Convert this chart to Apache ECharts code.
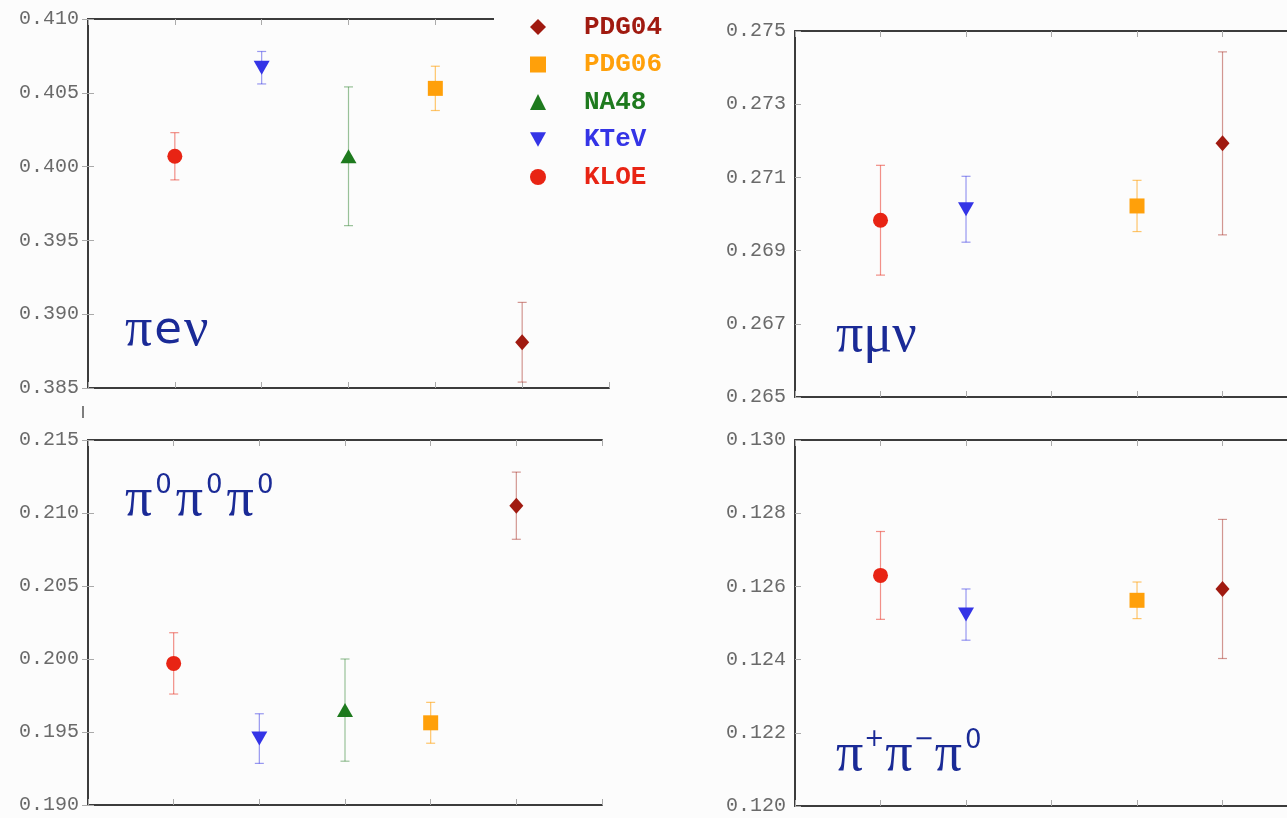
<!DOCTYPE html>
<html>
<head>
<meta charset="utf-8">
<script src="https://cdn.jsdelivr.net/npm/echarts@6/dist/echarts.min.js"></script>
<style>
html,body{margin:0;padding:0;background:#fcfcfc;}
#chart{width:1287px;height:818px;}
</style>
</head>
<body>
<div id="chart"></div>
<script>
// ---- data ----
const categories = ['KLOE', 'KTeV', 'NA48', 'PDG06', 'PDG04'];   // x order 1..5
const legendOrder = ['PDG04', 'PDG06', 'NA48', 'KTeV', 'KLOE'];

const pevValues  = [0.4007, 0.4067, 0.4007, 0.4053, 0.3881];
const pevErrors  = [0.0016, 0.0011, 0.0047, 0.0015, 0.0027];
const pmvValues  = [0.26983, 0.27013, null, 0.27022, 0.27193];
const pmvErrors  = [0.0015, 0.0009, null, 0.0007, 0.0025];
const p000Values = [0.1997, 0.19455, 0.1965, 0.19563, 0.2105];
const p000Errors = [0.0021, 0.0017, 0.0035, 0.0014, 0.0023];
const pppValues  = [0.1263, 0.12523, null, 0.12562, 0.12593];
const pppErrors  = [0.0012, 0.0007, null, 0.0005, 0.0019];

const pevTicks  = [0.385, 0.410, 0.005];
const pmvTicks  = [0.265, 0.275, 0.002];
const p000Ticks = [0.190, 0.215, 0.005];
const pppTicks  = [0.120, 0.130, 0.002];

// ---- styles ----
const colors = {PDG04:'#a01a10', PDG06:'#ffa00a', NA48:'#1e7a1e', KTeV:'#3434e6', KLOE:'#e82414'};
const errColors = {PDG04:'rgba(160,26,16,0.45)', PDG06:'rgba(255,160,10,0.6)', NA48:'rgba(30,122,30,0.45)', KTeV:'rgba(52,52,230,0.5)', KLOE:'rgba(232,36,20,0.5)'};
const invTri = 'path://M0,0 L10,0 L5,9 Z';
const symbols = {PDG04:'diamond', PDG06:'rect', NA48:'triangle', KTeV:invTri, KLOE:'circle'};
const sizes = {PDG04:[14,16], PDG06:[15,15], NA48:[16,14], KTeV:[16,14], KLOE:[15,15]};
const navy = '#1a2a96';

// right-hand panels run past the picture's edge: x range cut at the edge
const panels = [
  {grid:{left:88, top:19, width:521, height:369}, xMax:6, rightAxis:true, ticks:pevTicks, values:pevValues, errors:pevErrors},
  {grid:{left:795, top:31, width:492, height:366}, xMax:5.754, rightAxis:false, ticks:pmvTicks, values:pmvValues, errors:pmvErrors},
  {grid:{left:88, top:440, width:514, height:365}, xMax:6, rightAxis:true, ticks:p000Ticks, values:p000Values, errors:p000Errors},
  {grid:{left:795, top:440, width:492, height:366}, xMax:5.754, rightAxis:false, ticks:pppTicks, values:pppValues, errors:pppErrors}
];

const axisLine = {show:true, lineStyle:{color:'#3c3c3c', width:2}};
const axisTick = {show:true, inside:true, length:6, lineStyle:{color:'#aaa', width:1}};

const grids = [], xAxes = [], yAxes = [], series = [];
panels.forEach((p, i) => {
  grids.push(Object.assign({containLabel:false}, p.grid));
  ['bottom','top'].forEach(pos => xAxes.push({
    type:'value', gridIndex:i, position:pos, min:0, max:p.xMax, interval:1,
    axisLine, axisTick, axisLabel:{show:false}, splitLine:{show:false}
  }));
  yAxes.push({
    type:'value', gridIndex:i, position:'left', min:p.ticks[0], max:p.ticks[1], interval:p.ticks[2],
    axisLine, axisTick, splitLine:{show:false},
    axisLabel:{show:true, margin:9, color:'#6a6a6a', fontFamily:'Liberation Mono', fontSize:20,
      formatter: v => v.toFixed(3)}
  });
  yAxes.push({
    type:'value', gridIndex:i, position:'right', min:p.ticks[0], max:p.ticks[1], interval:p.ticks[2],
    show:p.rightAxis, axisLine, axisTick, splitLine:{show:false}, axisLabel:{show:false}
  });
});

// scatter series first (legend icons), then error bars
legendOrder.forEach(name => {
  const ci = categories.indexOf(name);
  panels.forEach((p, i) => {
    if (p.values[ci] == null) return;
    series.push({
      type:'scatter', name, xAxisIndex:2*i, yAxisIndex:2*i, z:3,
      symbol:symbols[name], symbolSize:sizes[name],
      itemStyle:{color:colors[name], opacity:1},
      data:[[ci+1, p.values[ci]]], silent:true
    });
  });
});
legendOrder.forEach(name => {
  const ci = categories.indexOf(name);
  panels.forEach((p, i) => {
    if (p.values[ci] == null) return;
    const c = errColors[name];
    series.push({
      type:'custom', name:name+' error', xAxisIndex:2*i, yAxisIndex:2*i, z:2, silent:true,
      encode:{x:0, y:[1,2]},
      data:[[ci+1, p.values[ci]-p.errors[ci], p.values[ci]+p.errors[ci]]],
      renderItem:(params, api) => {
        const x = api.value(0);
        const top = api.coord([x, api.value(2)]);
        const bot = api.coord([x, api.value(1)]);
        const w = 4.5;
        const st = {stroke:c, lineWidth:1.2};
        return {type:'group', children:[
          {type:'line', shape:{x1:top[0], y1:top[1], x2:bot[0], y2:bot[1]}, style:st},
          {type:'line', shape:{x1:top[0]-w, y1:top[1], x2:top[0]+w, y2:top[1]}, style:st},
          {type:'line', shape:{x1:bot[0]-w, y1:bot[1], x2:bot[0]+w, y2:bot[1]}, style:st}
        ]};
      }
    });
  });
});

const labelRich = {
  p:{fontFamily:'Liberation Serif', fontWeight:'normal', fontSize:54, color:navy, lineHeight:56, padding:[0,1,0,1]},
  e:{fontFamily:'DejaVu Sans', fontWeight:'normal', fontSize:45, color:navy, lineHeight:56, padding:[0,1,0,1]},
  s:{fontFamily:'DejaVu Sans', fontWeight:'normal', fontSize:26, color:navy, lineHeight:35, verticalAlign:'top', padding:[0,3,0,2]},
  q:{fontFamily:'DejaVu Sans', fontWeight:'normal', fontSize:24, color:navy, lineHeight:33, verticalAlign:'top', padding:[0,0,0,0]}
};

const option = {
  backgroundColor:'#fcfcfc',
  animation:false,
  grid:grids, xAxis:xAxes, yAxis:yAxes, series,
  legend:{
    orient:'vertical', left:494, top:2, padding:[12,22,14,36],
    backgroundColor:'#fcfcfc', z:10, selectedMode:false,
    itemWidth:16, itemHeight:16, itemGap:11.5,
    data: legendOrder.map(n => ({name:n, icon:symbols[n], itemStyle:{color:colors[n]},
      textStyle:{color:colors[n]}})),
    textStyle:{fontFamily:'Liberation Mono', fontWeight:'bold', fontSize:26, lineHeight:24, padding:[0,0,0,33]}
  },
  title:[
    {text:'{p|π}{e|e}{p|ν}', left:124, top:303, padding:0, textStyle:{fontWeight:'normal', rich:labelRich}},
    {text:'{p|πμν}', left:835, top:309, padding:0, textStyle:{fontWeight:'normal', rich:labelRich}},
    {text:'{p|π}{s|0}{p|π}{s|0}{p|π}{s|0}', left:124, top:473, padding:0, textStyle:{fontWeight:'normal', rich:labelRich}},
    {text:'{p|π}{q|+}{p|π}{q|−}{p|π}{s|0}', left:835, top:728, padding:0, textStyle:{fontWeight:'normal', rich:labelRich}}
  ],
  graphic:[
    {type:'line', shape:{x1:83, y1:406, x2:83, y2:418}, style:{stroke:'#555', lineWidth:1.5}}
  ]
};

const chart = echarts.init(document.getElementById('chart'));
chart.setOption(option);
</script>
</body>
</html>
